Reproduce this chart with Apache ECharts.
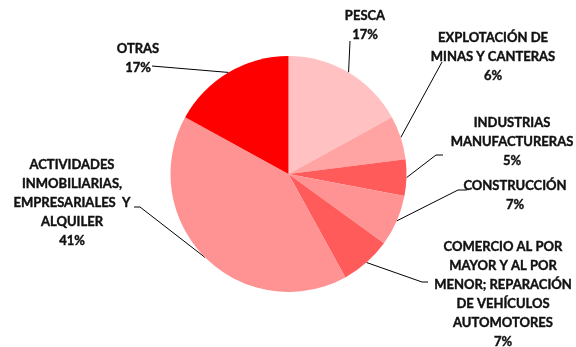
<!DOCTYPE html>
<html>
<head>
<meta charset="utf-8">
<script src="https://cdn.jsdelivr.net/npm/echarts@6/dist/echarts.min.js"></script>
<style>
  html, body { margin: 0; padding: 0; background: #fff; }
  #chart { width: 576px; height: 347px; }
</style>
</head>
<body>
<div id="chart"></div>
<script>
// Sector shares (%), clockwise from twelve o'clock
const categories = [
  'PESCA',
  'EXPLOTACIÓN DE\nMINAS Y CANTERAS',
  'INDUSTRIAS\nMANUFACTURERAS',
  'CONSTRUCCIÓN',
  'COMERCIO AL POR\nMAYOR Y AL POR\nMENOR; REPARACIÓN\nDE VEHÍCULOS\nAUTOMOTORES',
  'ACTIVIDADES\nINMOBILIARIAS,\nEMPRESARIALES  Y\nALQUILER',
  'OTRAS'
];
const shares = [17, 6, 5, 7, 7, 41, 17];
const sliceColors = ['#FFC1C1', '#FFA3A3', '#FF5B5B', '#FF9393', '#FF5B5B', '#FF9393', '#FF0000'];

// Label block centres and the bend points of each leader line (after the slice anchor)
const labelCenters = [[365, 25], [493, 57], [512, 142], [515, 195], [503, 294], [72, 203], [138, 58]];
const leaderBends = [
  [[350, 41]],
  [[442, 62]],
  [[436, 155], [443, 155]],
  [[458, 190], [467, 190]],
  [[422, 282], [428, 282]],
  [[140, 207], [134, 207]],
  [[152, 66]]
];

const chart = echarts.init(document.getElementById('chart'), null, { renderer: 'canvas' });

chart.setOption({
  animation: false,
  backgroundColor: '#ffffff',
  series: [{
    type: 'pie',
    center: [288.5, 174],
    radius: 118,
    startAngle: 90,
    clockwise: true,
    avoidLabelOverlap: false,
    data: categories.map((name, i) => ({
      name: name,
      value: shares[i],
      itemStyle: { color: sliceColors[i] }
    })),
    itemStyle: { borderWidth: 0 },
    label: {
      show: true,
      formatter: '{b}\n{d}%',
      color: '#111',
      fontFamily: 'Lato',
      fontWeight: 'bold',
      fontSize: 13,
      lineHeight: 19,
      align: 'center',
      overflow: 'none',
      textBorderColor: '#111',
      textBorderWidth: 0.4
    },
    labelLine: {
      show: true,
      length: 10,
      length2: 10,
      smooth: false,
      lineStyle: { color: '#000', width: 1 }
    },
    labelLayout: function (params) {
      const i = params.dataIndex;
      const anchor = params.labelLinePoints ? params.labelLinePoints[0] : null;
      const out = {
        x: labelCenters[i][0],
        y: labelCenters[i][1],
        align: 'center',
        verticalAlign: 'middle'
      };
      if (anchor) {
        out.labelLinePoints = [anchor].concat(leaderBends[i]);
      }
      return out;
    },
    emphasis: { disabled: true }
  }]
});
</script>
</body>
</html>
